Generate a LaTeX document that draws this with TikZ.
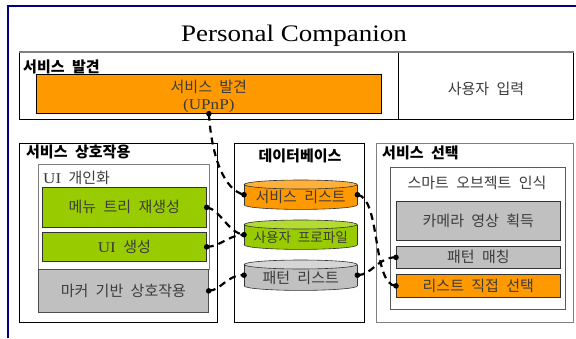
\documentclass[tikz,border=0pt]{standalone}
\usepackage{fontspec}
\setmainfont{Liberation Serif}
\newfontfamily\kr[WordSpace=2.2]{Noto Sans CJK KR}
\newfontfamily\titlefont[FakeStretch=1.14]{Liberation Serif}
\usetikzlibrary{backgrounds}
\definecolor{navyline}{HTML}{000080}
\definecolor{orng}{HTML}{FF9900}
\definecolor{orngtop}{HTML}{FFB03A}
\definecolor{grn}{HTML}{99CC00}
\definecolor{grntop}{HTML}{B3DB33}
\definecolor{gry}{HTML}{C0C0C0}
\definecolor{grytop}{HTML}{D6D6D6}
\definecolor{txtgray}{HTML}{3C3C3C}
\definecolor{midgray}{HTML}{808080}
\definecolor{boxline}{HTML}{333333}
\newcommand{\shiftdown}[1]{\raisebox{-2.5pt}[\height][\depth]{#1}}
\newcommand{\drawcyl}[3]{%
  \fill[#2, draw=boxline, line width=0.6pt] ([yshift=4.5pt]#1.south) ellipse [x radius=56.5pt, y radius=4.5pt];
  \fill[#2] ([yshift=4.5pt]#1.south west) rectangle ([yshift=-4.5pt]#1.north east);
  \draw[boxline, line width=0.6pt] ([yshift=4.5pt]#1.south west) -- ([yshift=-4.5pt]#1.north west)
        ([yshift=4.5pt]#1.south east) -- ([yshift=-4.5pt]#1.north east);
  \fill[#3, draw=boxline, line width=0.6pt] ([yshift=-4.5pt]#1.north) ellipse [x radius=56.5pt, y radius=4.5pt];
}
\tikzset{
  sect/.style={draw=black, line width=0.9pt, anchor=north west, inner sep=0pt},
  lab/.style={font=\kr\bfseries\fontsize{15}{18}\selectfont, text=black, inner sep=0pt},
  txt/.style={font=\kr\fontsize{15}{17}\selectfont, text=txtgray, align=center, inner sep=0pt},
  ibox/.style={draw=boxline, line width=0.7pt, anchor=north west, inner sep=0pt,
    font=\kr\fontsize{15}{17}\selectfont, text=txtgray},
  cylnode/.style={anchor=north west, inner sep=0pt, minimum width=113pt,
    font=\kr\fontsize{15}{17}\selectfont, text=txtgray},
  conn/.style={line width=2.2pt, dash pattern=on 7pt off 5pt},
  enddot/.style={fill=black}
}
\begin{document}
\begin{tikzpicture}[x=1pt,y=-1pt]
\useasboundingbox (0,0) rectangle (576,338);
\begin{pgfonlayer}{background}
\fill[white] (0,0) rectangle (576,338);
\end{pgfonlayer}
% outer frame
\draw[navyline, line width=2pt] (8,338) -- (8,5.5) -- (576,5.5);
% title
\node[font=\titlefont\fontsize{23.7}{26}\selectfont, anchor=base, inner sep=0pt] (title) at (294,41) {Personal Companion};
% top box
\node[sect, minimum width=554pt, minimum height=67pt] (topbox) at (19,52) {};
\draw[midgray, line width=1.6pt] (topbox.north west) -- (topbox.north east);
\node[sect, minimum width=175pt, minimum height=67pt, font=\kr\fontsize{15}{17}\selectfont, text=txtgray] (input) at (398,52) {\raisebox{-2.5pt}[\height][\depth]{사용자 입력}};
\draw[midgray, line width=1.6pt] (input.north west) -- (input.north east);
\node[lab, anchor=west] (labdisc) at (23,67) {서비스 발견};
\node[ibox, fill=orng, minimum width=345pt, minimum height=39pt, draw=black] (upnp) at (36,74) {};
\node[txt] (upnptxt) at ([yshift=-3pt]upnp.center) {서비스 발견\\{\titlefont (UPnP)}};
% section: interaction
\node[sect, minimum width=198pt, minimum height=179pt] (secint) at (19,143) {};
\node[lab, anchor=west] (labint) at (26,152) {서비스 상호작용};
\node[sect, draw=midgray, line width=0.7pt, minimum width=171pt, minimum height=105pt] (uibox) at (38,164) {};
\node[txt, anchor=west] (uilab) at (43,178) {{\titlefont UI} 개인화};
\node[ibox, fill=grn, minimum width=164pt, minimum height=40pt] (menu) at (42,187) {메뉴 트리 재생성};
\node[ibox, fill=grn, minimum width=164pt, minimum height=29pt] (uigen) at (42,232) {{\titlefont UI} 생성};
\node[ibox, fill=gry, draw=midgray!60!black, minimum width=170pt, minimum height=43pt] (marker) at (38,269) {마커 기반 상호작용};
% section: database
\node[sect, minimum width=130pt, minimum height=179pt] (secdb) at (234,143) {};
\node[lab] (labdb) at (300,156) {데이터베이스};
\node[cylnode, minimum height=29pt] (cyl1) at (244,180) {\shiftdown{서비스 리스트}};
\node[cylnode, minimum height=29pt] (cyl2) at (244,220) {\shiftdown{\fontsize{13.6}{16}\selectfont 사용자 프로파일}};
\node[cylnode, minimum height=30pt] (cyl3) at (244,260) {\shiftdown{패턴 리스트}};
\begin{pgfonlayer}{background}
\drawcyl{cyl1}{orng}{orngtop}
\drawcyl{cyl2}{grn}{grntop}
\drawcyl{cyl3}{gry}{grytop}
\end{pgfonlayer}
% section: selection
\node[sect, draw=midgray, minimum width=197pt, minimum height=179pt] (secsel) at (376,143) {};
\node[lab, anchor=west] (labsel) at (382,153) {서비스 선택};
\node[sect, draw=midgray!70!black, line width=0.7pt, minimum width=175pt, minimum height=142pt] (smart) at (390,167) {};
\node[txt] (smartlab) at (477,183) {스마트 오브젝트 인식};
\node[ibox, fill=gry, minimum width=164pt, minimum height=39pt] (camera) at (396,201) {카메라 영상 획득};
\node[ibox, fill=gry, minimum width=164pt, minimum height=22pt] (pattern) at (396,246) {패턴 매칭};
\node[ibox, fill=orng, minimum width=164pt, minimum height=23pt] (direct) at (396,274) {리스트 직접 선택};
% connectors
\draw[conn] (upnp.south) .. controls (212,160) and (225,190) .. (cyl1.west);
\draw[conn] (menu.east) .. controls (220,209) and (228,233) .. (cyl2.west);
\draw[conn] (uigen.east) .. controls (222,246) and (226,236) .. (cyl2.west);
\draw[conn] (marker.east) .. controls (222,290) and (226,275) .. (cyl3.west);
\draw[conn] (cyl1.east) .. controls (381,198) and (372,285) .. (direct.west);
\draw[conn] (cyl3.east) .. controls (372,275) and (378,257) .. (pattern.west);
% end dots
\foreach \p in {upnp.south, cyl1.west, menu.east, cyl2.west, uigen.east, marker.east, cyl3.west, cyl1.east, cyl3.east, direct.west, pattern.west}
  \fill[enddot] (\p) circle[radius=2.8pt];
\end{tikzpicture}
\end{document}
